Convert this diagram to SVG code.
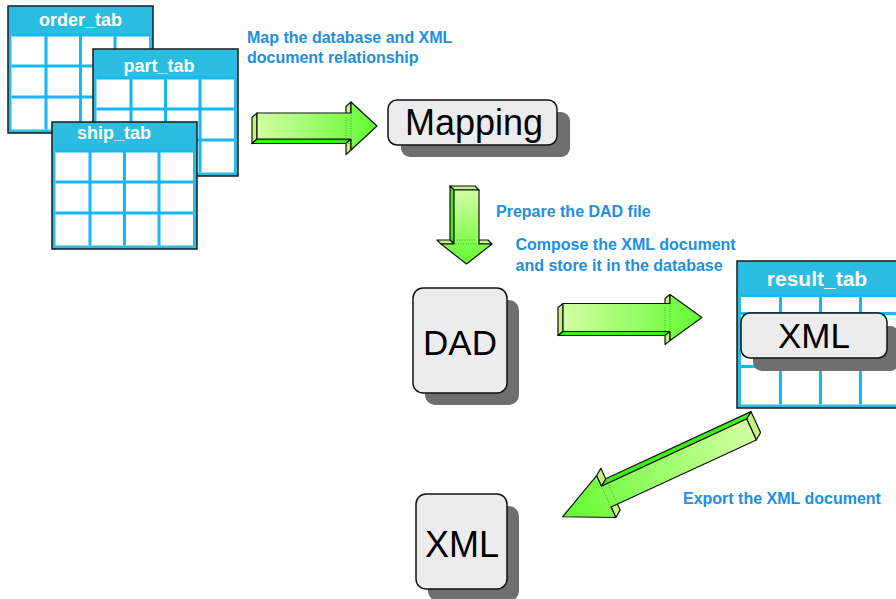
<svg xmlns="http://www.w3.org/2000/svg" xmlns:xlink="http://www.w3.org/1999/xlink" width="896" height="599" viewBox="0 0 896 599">
  <style>
    .tab { fill: #2abde1; stroke: #1a1a1a; stroke-width: 1.5; }
    .body { fill: #ffffff; }
    .grid { fill: none; stroke: #17b6f4; stroke-width: 3; }
    .tabname { font-family: "Liberation Sans", Arial, sans-serif; font-weight: bold; fill: #ffffff; text-anchor: middle; }
    .shadow { fill: #6f6f6f; }
    .box { fill: #ececec; stroke: #111111; stroke-width: 1.5; }
    .boxtext { font-family: "Liberation Sans", Arial, sans-serif; fill: #000000; text-anchor: middle; }
    .note { font-family: "Liberation Sans", Arial, sans-serif; font-weight: bold; font-size: 16px; fill: #1c8fe3; }
    .face { stroke: #111111; stroke-width: 1.2; stroke-linejoin: round; }
    .front { fill: url(#arrowFront); }
    .side { fill: #3cf016; }
    .end { fill: #c6f27e; }
    .hidden { fill: none; stroke: #3a9a20; stroke-width: 0.8; stroke-dasharray: 1 1.5; }
  </style>
  <defs>
    <linearGradient id="arrowFront" x1="0" y1="0" x2="1" y2="0">
      <stop offset="0" stop-color="#d2ffa2"/>
      <stop offset="1" stop-color="#62fb30"/>
    </linearGradient>
    <!-- 4 x 3 table used by the three source tables (145 x 127) -->
    <g id="smallTable">
      <rect class="tab" x="0" y="0" width="145" height="127"/>
      <rect class="body" x="3.5" y="29" width="137.5" height="94.5"/>
      <path class="grid" d="M38 29V123.5M72.5 29V123.5M107 29V123.5M3.5 60H141M3.5 91H141M3.5 29H141"/>
    </g>
  </defs>

  <!-- source tables -->
  <g id="order_tab">
    <use xlink:href="#smallTable" x="8" y="6"/>
    <text class="tabname" x="80.5" y="26" font-size="18">order_tab</text>
  </g>
  <g id="part_tab">
    <use xlink:href="#smallTable" x="93" y="49"/>
    <text class="tabname" x="159" y="71.5" font-size="18">part_tab</text>
  </g>
  <g id="ship_tab">
    <use xlink:href="#smallTable" x="52" y="122"/>
    <text class="tabname" x="114" y="138.5" font-size="18">ship_tab</text>
  </g>

  <!-- Mapping node -->
  <g id="mapping">
    <rect class="shadow" x="401" y="112" width="169" height="45" rx="9"/>
    <rect class="box" x="388" y="100" width="169" height="45" rx="9"/>
    <text class="boxtext" x="474" y="135" font-size="36">Mapping</text>
  </g>

  <!-- DAD node -->
  <g id="dad">
    <rect class="shadow" x="425" y="300" width="94" height="105" rx="10"/>
    <rect class="box" x="413" y="288" width="94" height="105" rx="10"/>
    <text class="boxtext" x="460" y="355" font-size="35">DAD</text>
  </g>

  <!-- result table holding the composed XML -->
  <g id="result_tab">
    <rect class="tab" x="737" y="261" width="172" height="147"/>
    <rect class="body" x="741" y="295" width="170" height="109.5"/>
    <path class="grid" d="M741 295.5H911M780.5 295V404.5M820.5 295V404.5M860.5 295V404.5M741 313.5H911M741 366.5H911"/>
    <text class="tabname" x="817" y="285.5" font-size="21">result_tab</text>
    <g id="result_xml">
      <rect class="shadow" x="753" y="326" width="146" height="45" rx="9"/>
      <rect class="box" x="741" y="313" width="146" height="45" rx="9"/>
      <text class="boxtext" x="814" y="348" font-size="35">XML</text>
    </g>
  </g>

  <!-- exported XML document -->
  <g id="xml_out">
    <rect class="shadow" x="428" y="506" width="91" height="95" rx="10"/>
    <rect class="box" x="416" y="494" width="91" height="95" rx="10"/>
    <text class="boxtext" x="462" y="557" font-size="36">XML</text>
  </g>

  <!-- 3D block arrows between the steps -->
  <g id="connectors">
    <g id="arrow_map" transform="translate(257,126)">
      <polygon class="face end" points="0,-13 0,13 -5,17.5 -5,-8.5"/>
      <polygon class="face side" points="0,13 94,13 89,17.5 -5,17.5"/>
      <polygon class="face end" points="94,13 94,24 89,28.5 89,17.5"/>
      <polygon class="face end" points="94,-24 94,-13 89,-8.5 89,-19.5"/>
      <polygon class="face front" points="0,-13 94,-13 94,-24 120,0 94,24 94,13 0,13"/>
      <path class="hidden" d="M94 -13V13M89 -8.5V17.5M89 17.5H94"/>
    </g>
    <g id="arrow_dad" transform="translate(466.5,190) rotate(90)">
      <polygon class="face end" points="0,-12.5 0,12.5 -4,16.5 -4,-8.5"/>
      <polygon class="face side" points="0,12.5 54,12.5 50,16.5 -4,16.5"/>
      <polygon class="face end" points="54,12.5 54,25.5 50,29.5 50,16.5"/>
      <polygon class="face end" points="54,-25.5 54,-12.5 50,-8.5 50,-21.5"/>
      <polygon class="face front" points="0,-12.5 54,-12.5 54,-25.5 74,0 54,25.5 54,12.5 0,12.5"/>
      <path class="hidden" d="M54 -12.5V12.5M50 -8.5V16.5"/>
    </g>
    <g id="arrow_compose" transform="translate(563,317.5)">
      <polygon class="face end" points="0,-14 0,14 -5,18 -5,-10"/>
      <polygon class="face side" points="0,14 107,14 102,18 -5,18"/>
      <polygon class="face end" points="107,14 107,23 102,27 102,18"/>
      <polygon class="face end" points="107,-23 107,-14 102,-10 102,-19"/>
      <polygon class="face front" points="0,-14 107,-14 107,-23 139,0 107,23 107,14 0,14"/>
      <path class="hidden" d="M107 -14V14M102 -10V18"/>
    </g>
    <g id="arrow_export" transform="translate(751.5,429.5) rotate(155.2)">
      <polygon class="face end" points="0,-11.5 0,11.5 -7,16.5 -7,-6.5"/>
      <polygon class="face side" points="0,11.5 160,11.5 153,16.5 -7,16.5"/>
      <polygon class="face end" points="160,11.5 160,23 153,28 153,16.5"/>
      <polygon class="face end" points="160,-23 160,-11.5 153,-6.5 153,-18"/>
      <polygon class="face front" points="0,-11.5 160,-11.5 160,-23 208,0 160,23 160,11.5 0,11.5"/>
      <path class="hidden" d="M160 -11.5V11.5M153 -6.5V16.5"/>
    </g>
  </g>

  <!-- step descriptions -->
  <g id="labels">
    <text class="note" x="247" y="42.5">Map the database and XML</text>
    <text class="note" x="247" y="63">document relationship</text>
    <text class="note" x="496" y="217">Prepare the DAD file</text>
    <text class="note" x="515.5" y="250">Compose the XML document</text>
    <text class="note" x="515.5" y="270.5">and store it in the database</text>
    <text class="note" x="683" y="503.5">Export the XML document</text>
  </g>
</svg>
